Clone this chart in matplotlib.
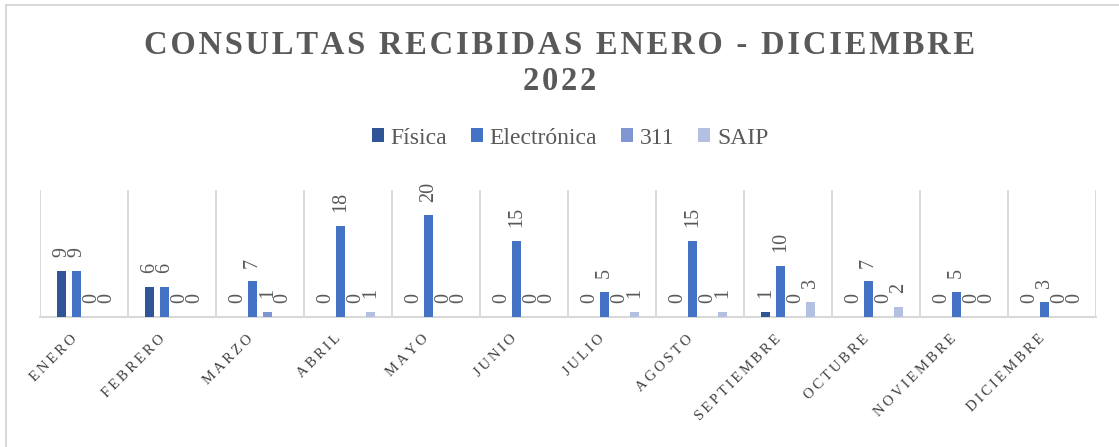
import matplotlib.pyplot as plt
import matplotlib.transforms as mtransforms
import numpy as np
from matplotlib.patches import Rectangle

meses = ['ENERO', 'FEBRERO', 'MARZO', 'ABRIL', 'MAYO', 'JUNIO', 'JULIO',
         'AGOSTO', 'SEPTIEMBRE', 'OCTUBRE', 'NOVIEMBRE', 'DICIEMBRE']
fisica = [9, 6, 0, 0, 0, 0, 0, 0, 1, 0, 0, 0]
electronica = [9, 6, 7, 18, 20, 15, 5, 15, 10, 7, 5, 3]
tel_311 = [0, 0, 1, 0, 0, 0, 0, 0, 0, 0, 0, 0]
saip = [0, 0, 0, 1, 0, 0, 1, 1, 3, 2, 0, 0]

series = [('Física', fisica, '#2F5597'),
          ('Electrónica', electronica, '#4472C4'),
          ('311', tel_311, '#7F96D2'),
          ('SAIP', saip, '#B4C0E2')]

SERIF = ['Liberation Serif', 'DejaVu Sans']


def spaced(s, sep='\u2009'):
    return sep.join(s)


fig = plt.figure(figsize=(11.19, 4.47), dpi=100)
fig.patches.append(Rectangle((6 / 1119, -0.1), 1.2, 1 - 5 / 447 + 0.1,
                             transform=fig.transFigure, fill=False,
                             edgecolor='#D9D9D9', linewidth=1.5))

ax = fig.add_axes([40 / 1119, 1 - 317 / 447, 1056 / 1119, 127 / 447])

x = np.arange(len(meses))
step = 0.17
width = 0.095
handles = []
for i, (name, vals, col) in enumerate(series):
    pos = x + (i - 1.5) * step
    b = ax.bar(pos, vals, width, color=col, label=name, zorder=3)
    handles.append(b)
    # etiquetas de datos (incluye los ceros, como en el original)
    for px, v in zip(pos, vals):
        ax.annotate(str(v), (px, v), xytext=(0, 10), textcoords='offset points',
                    rotation=90, ha='center', va='bottom', fontsize=14.5,
                    family='Liberation Serif', color='#595959')

ax.set_xlim(-0.5, len(meses) - 0.5)
ax.set_ylim(0, 25)
for b in np.arange(-0.5, len(meses), 1.0):
    ax.axvline(b, color='#D9D9D9', linewidth=1.3, zorder=1)
for s in ['top', 'right', 'left']:
    ax.spines[s].set_visible(False)
ax.spines['bottom'].set_color('#D9D9D9')
ax.spines['bottom'].set_linewidth(1.5)
ax.set_yticks([])
ax.set_xticks(x)
ax.set_xticklabels([spaced(m) for m in meses], rotation=45, ha='right',
                   rotation_mode='anchor', fontsize=10.5,
                   family=SERIF, color='#404040')
ax.tick_params(axis='x', length=0, pad=11)
shift = mtransforms.ScaledTranslation(-14 / 100, 0, fig.dpi_scale_trans)
for lab in ax.get_xticklabels():
    lab.set_transform(lab.get_transform() + shift)

fig.text(0.5, 1 - 45 / 447, spaced('CONSULTAS RECIBIDAS ENERO - DICIEMBRE', '\u200a'),
         ha='center', va='center', fontsize=23.5, fontweight='bold',
         family=SERIF, color='#595959')
fig.text(0.5, 1 - 81 / 447, spaced('2022', '\u200a'), ha='center', va='center',
         fontsize=23.5, fontweight='bold', family=SERIF, color='#595959')

fig.legend(handles=handles, loc='center', bbox_to_anchor=(570 / 1119, 1 - 138 / 447),
           ncol=4, frameon=False, prop={'family': 'Liberation Serif', 'size': 17},
           handlelength=0.5, handleheight=0.5, handletextpad=0.3,
           columnspacing=1.0, labelcolor='#595959')

fig.savefig('out.png', dpi=100)
